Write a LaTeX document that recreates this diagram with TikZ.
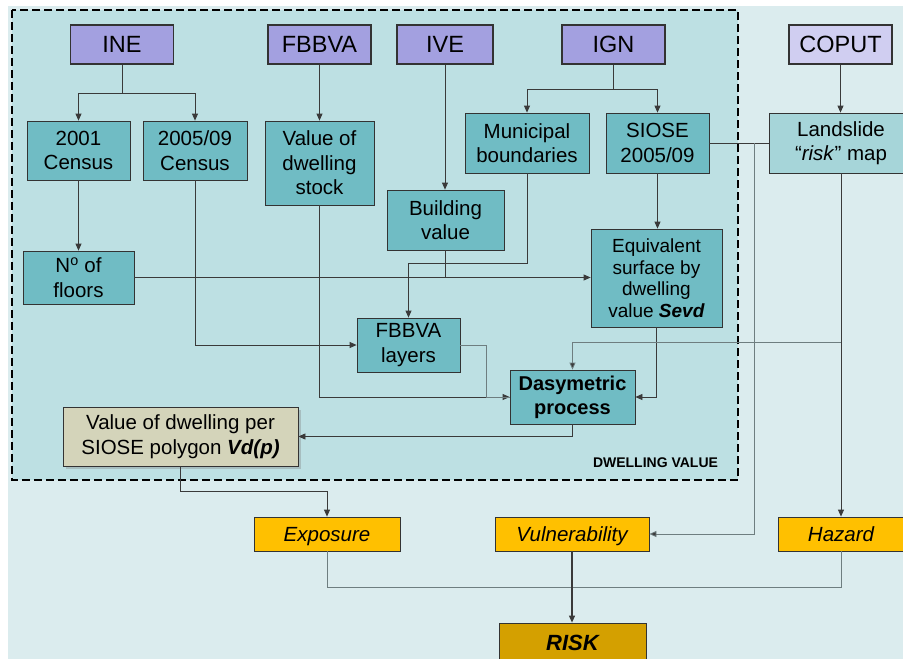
\documentclass[tikz,border=0pt]{standalone}
\usepackage{fontspec}
\setmainfont{Liberation Sans}
\usetikzlibrary{arrows.meta,shadows,calc}
\definecolor{bgout}{HTML}{DBECEE}
\definecolor{bgin}{HTML}{BDE0E3}
\definecolor{teal}{HTML}{70BCC4}
\definecolor{tealL}{HTML}{A6D5D9}
\definecolor{purp}{HTML}{A3A0E0}
\definecolor{purpL}{HTML}{D0CEF1}
\definecolor{khaki}{HTML}{D4D4BA}
\definecolor{gold}{HTML}{FFC000}
\definecolor{goldD}{HTML}{D4A000}
\definecolor{lineD}{HTML}{3A3A3A}
\definecolor{lineG}{HTML}{6E7E80}
\tikzset{
  box/.style={draw=black!80, line width=0.8pt, align=center, inner sep=0pt,
    font=\fontsize{20.5}{24.5}\selectfont},
  src/.style={box, fill=purp, line width=1.3pt, minimum width=103pt, minimum height=39pt,
    font=\fontsize{23.5}{26}\selectfont},
  tbox/.style={box, fill=teal},
  obox/.style={box, fill=gold, minimum height=34pt, text height=14.7pt, text depth=0pt,
    font=\fontsize{20.5}{24}\selectfont\itshape},
  conn/.style={draw=lineD, line width=0.8pt},
  conng/.style={draw=lineG, line width=0.8pt},
  arr/.style={conn, -{Triangle[length=7pt,width=6pt]}},
  arrg/.style={conng, -{Triangle[length=7pt,width=6pt,fill=lineD]}},
}
\begin{document}
\begin{tikzpicture}[x=1pt,y=-1pt]
\useasboundingbox (0,0) rectangle (903,659);
\clip (0,0) rectangle (903,659);
\fill[white] (0,0) rectangle (903,659);
\fill[bgout] (8,6) rectangle (903,659);
\draw[fill=bgin, line width=2.6pt, dash pattern=on 8pt off 4pt] (12,10) rectangle (738,480);
\node[font=\fontsize{14}{16}\selectfont\bfseries] (dv) at (655.5,463) {DWELLING VALUE};

% sources
\node[src] (INE) at (122,44.5) {INE};
\node[src] (FBBVA) at (319.5,44.5) {FBBVA};
\node[src, minimum width=96pt] (IVE) at (445,44.5) {IVE};
\node[src] (IGN) at (613.5,44.5) {IGN};
\node[src, fill=purpL] (COPUT) at (840.5,44.5) {COPUT};

% teal boxes
\node[tbox, minimum width=103pt, minimum height=59pt] (c2001) at (78.5,150.5) {2001\\Census};
\node[tbox, minimum width=104pt, minimum height=59pt] (c2005) at (195,150.5) {2005/09\\Census};
\node[tbox, minimum width=109pt, minimum height=84pt] (vds) at (319.5,163) {Value of\\dwelling\\stock};
\node[tbox, minimum width=117pt, minimum height=60pt] (bval) at (445.5,220) {Building\\value};
\node[tbox, minimum width=111pt, minimum height=53pt] (floors) at (78.5,277.5) {N\textsuperscript{o} of\\floors};
\node[tbox, minimum width=124pt, minimum height=60pt] (muni) at (527,143) {Municipal\\boundaries};
\node[tbox, minimum width=103pt, minimum height=60pt] (siose) at (657.5,143) {SIOSE\\2005/09};
\node[tbox, fill=tealL, minimum width=144pt, minimum height=60pt] (land) at (841,143) {Landslide\\``\textit{risk}'' map};
\node[tbox, minimum width=131pt, minimum height=98pt, font=\fontsize{19}{21.5}\selectfont] (equiv) at (656.5,278) {Equivalent\\surface by\\dwelling\\value \textbf{\textit{Sevd}}};
\node[tbox, minimum width=103pt, minimum height=54pt] (layers) at (408.5,345) {FBBVA\\layers};
\node[tbox, minimum width=125pt, minimum height=54pt, font=\fontsize{20}{24}\selectfont\bfseries] (dasy) at (572.5,397) {Dasymetric\\process};
\node[box, fill=khaki, minimum width=235pt, minimum height=59pt,
  drop shadow={shadow xshift=2.5pt, shadow yshift=-2.5pt, opacity=0.35}] (vd) at (180.5,436.5) {Value of dwelling per\\SIOSE polygon \textbf{\textit{Vd(p)}}};

% outputs
\node[obox, minimum width=146pt] (expo) at (327,534) {Exposure};
\node[obox, minimum width=154pt] (vul) at (572,534) {Vulnerability};
\node[obox, minimum width=126pt] (haz) at (841,534) {Hazard};
\node[box, fill=goldD, minimum width=147pt, minimum height=40pt, text height=15.8pt, text depth=0pt,
  font=\fontsize{22}{24}\selectfont\bfseries\itshape] (risk) at (572.5,643) {RISK};

% connectors
\coordinate (j1) at (122,93);
\draw[conn] (INE.south) -- (j1);
\draw[arr] (j1) -| (c2001.north);
\draw[arr] (j1) -| (c2005.north);
\draw[arr] (FBBVA.south) -- (vds.north);
\draw[arr] (IVE.south) -- (IVE.south |- bval.north);
\coordinate (j2) at (613.5,89);
\draw[conn] (IGN.south) -- (j2);
\draw[arr] (j2) -| (muni.north);
\draw[arr] (j2) -| (siose.north);
\draw[arr] (COPUT.south) -- (COPUT.south |- land.north);

\draw[arr] (c2001.south) -- (floors.north);
\draw[arr] (floors.east) -- (floors.east -| equiv.west);
\draw[conn] (bval.south) -- (bval.south |- floors.east);
\draw[arr] (muni.south) -- ++(0,90) -| (layers.north);
\draw[arr] (siose.south) -- (siose.south |- equiv.north);
\draw[conn] (siose.east) -- (land.west);
\coordinate (j4) at (754,143);
\draw[arrg] (j4) |- (vul.east);

\draw[arr] (c2005.south) |- (layers.west);
\draw[arr] (vds.south) |- (dasy.west);
\draw[conng] (layers.east) -- ++(26,0) |- (dasy.west);
\draw[arr] (equiv.south) |- (dasy.east);
\draw[arr] (land.south) -- (haz.north);
\coordinate (j5) at (841,342);
\draw[arrg] (j5) -| (dasy.north);
\draw[arr] (dasy.south) |- (vd.east);
\draw[arr] (vd.south) -- ++(0,24.5) -| (expo.north);

\coordinate (j6) at (572,587);
\draw[conng] (expo.south) |- (j6);
\draw[conng] (haz.south) |- (j6);
\draw[arr, line width=1.1pt] (vul.south) -- (vul.south |- risk.north);
\end{tikzpicture}
\end{document}
